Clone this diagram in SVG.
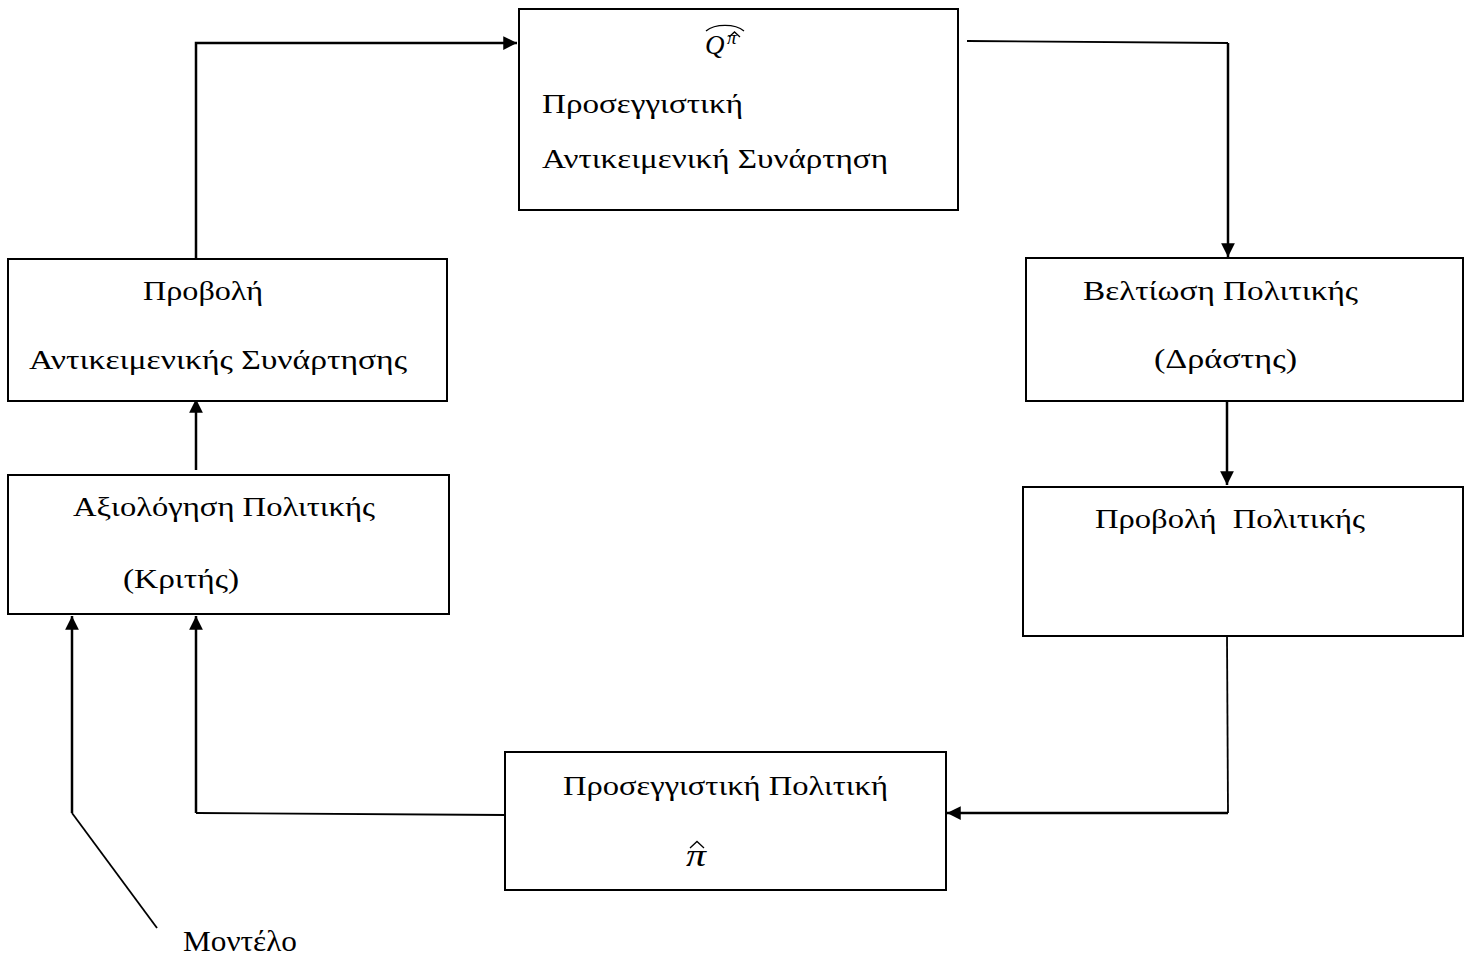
<svg xmlns="http://www.w3.org/2000/svg" width="1470" height="958" viewBox="0 0 1470 958">
  <style>
    .box { fill: #fff; stroke: #000; stroke-width: 2; }
    .lbl { font-family: "Liberation Serif", "DejaVu Serif", serif; font-size: 28px; fill: #000; }
    .plain { font-family: "Liberation Serif", "DejaVu Serif", serif; font-size: 29px; fill: #000; }
    .math { font-family: "Liberation Serif", "DejaVu Serif", serif; font-style: italic; fill: #000; }
    .accent { fill: none; stroke: #000; stroke-width: 1.3; }
    .wire { fill: none; stroke: #000; stroke-width: 2.5; }
    .thin { fill: none; stroke: #000; stroke-width: 1.8; }
  </style>
  <defs>
    <marker id="head" viewBox="0 0 10 10" refX="10" refY="5" markerWidth="6" markerHeight="5.5" markerUnits="strokeWidth" orient="auto">
      <path d="M0,0 L10,5 L0,10 Z" fill="#000"/>
    </marker>
  </defs>
  <rect width="1470" height="958" fill="#fff"/>

  <!-- connectors -->
  <g id="connectors">
    <path class="wire" d="M196,258 V43 H517" marker-end="url(#head)"/>
    <path class="thin" d="M967,41 L1228,43"/>
    <path class="wire" d="M1228,43 V257" marker-end="url(#head)"/>
    <path class="wire" d="M1227,397 V485" marker-end="url(#head)"/>
    <path class="thin" d="M1227,636 L1228,813"/>
    <path class="wire" d="M1228,813 H947" marker-end="url(#head)"/>
    <path class="thin" d="M505,815 L196,813"/>
    <path class="wire" d="M196,813 V616" marker-end="url(#head)"/>
    <path class="wire" d="M196,470 V399" marker-end="url(#head)"/>
    <path class="wire" d="M72,813 V616" marker-end="url(#head)"/>
    <path class="thin" d="M72,813 L157,928"/>
  </g>

  <!-- approximate objective function -->
  <g id="node-q">
    <rect class="box" x="519" y="9" width="439" height="201"/>
    <text class="math" x="705" y="54" font-size="27">Q</text>
    <text class="math" x="727" y="44" font-size="19">π</text>
    <path class="accent" d="M729,37 L734.5,32 L740,37"/>
    <path class="accent" d="M706,31 C715,23.5 735,23.5 744,31"/>
    <text class="lbl" x="542" y="113" textLength="201" lengthAdjust="spacingAndGlyphs">Προσεγγιστική</text>
    <text class="lbl" x="542" y="168" textLength="346" lengthAdjust="spacingAndGlyphs">Αντικειμενική Συνάρτηση</text>
  </g>

  <!-- policy improvement -->
  <g id="node-actor">
    <rect class="box" x="1026" y="258" width="437" height="143"/>
    <text class="lbl" x="1083" y="300" textLength="275" lengthAdjust="spacingAndGlyphs">Βελτίωση Πολιτικής</text>
    <text class="lbl" x="1154" y="368" textLength="143" lengthAdjust="spacingAndGlyphs">(Δράστης)</text>
  </g>

  <!-- policy projection -->
  <g id="node-policy-proj">
    <rect class="box" x="1023" y="487" width="440" height="149"/>
    <text class="lbl" x="1095" y="528" xml:space="preserve" textLength="270" lengthAdjust="spacingAndGlyphs">Προβολή  Πολιτικής</text>
  </g>

  <!-- approximate policy -->
  <g id="node-pi">
    <rect class="box" x="505" y="752" width="441" height="138"/>
    <text class="lbl" x="563" y="795" textLength="325" lengthAdjust="spacingAndGlyphs">Προσεγγιστική Πολιτική</text>
    <text class="math" x="686" y="866" font-size="32" textLength="20" lengthAdjust="spacingAndGlyphs">π</text>
    <path class="accent" d="M690,848 L697,841.5 L704,848"/>
  </g>

  <!-- policy evaluation -->
  <g id="node-critic">
    <rect class="box" x="8" y="475" width="441" height="139"/>
    <text class="lbl" x="73" y="516" textLength="302" lengthAdjust="spacingAndGlyphs">Αξιολόγηση Πολιτικής</text>
    <text class="lbl" x="123" y="588" textLength="116" lengthAdjust="spacingAndGlyphs">(Κριτής)</text>
  </g>

  <!-- objective function projection -->
  <g id="node-obj-proj">
    <rect class="box" x="8" y="259" width="439" height="142"/>
    <text class="lbl" x="143" y="300" textLength="120" lengthAdjust="spacingAndGlyphs">Προβολή</text>
    <text class="lbl" x="29" y="369" textLength="378" lengthAdjust="spacingAndGlyphs">Αντικειμενικής Συνάρτησης</text>
  </g>

  <!-- model input -->
  <g id="node-model">
    <text class="plain" x="183" y="951" textLength="114" lengthAdjust="spacingAndGlyphs">Μοντέλο</text>
  </g>
</svg>
